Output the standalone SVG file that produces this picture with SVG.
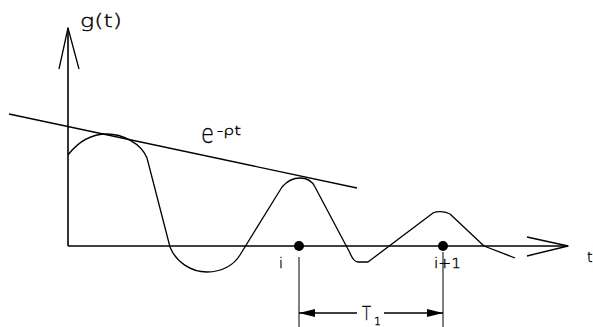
<svg xmlns="http://www.w3.org/2000/svg" width="593" height="327" viewBox="0 0 593 327">
<style>
.ln{fill:none;stroke:#000;stroke-width:1.3;stroke-linejoin:round}
.ax{fill:none;stroke:#000;stroke-width:1.6}
.ext{fill:none;stroke:#808080;stroke-width:2}
.tx{font-family:"DejaVu Sans","Liberation Sans",sans-serif;font-weight:200;fill:#000;stroke:#000;stroke-width:0.35}
</style>
<defs>
<marker id="ah" markerWidth="16" markerHeight="8" refX="16" refY="4" orient="auto" markerUnits="userSpaceOnUse">
<path d="M0,0 L16,4 L0,8 Z" fill="#000"/>
</marker>
</defs>
<rect width="593" height="327" fill="#fff"/>
<g id="axes">
<line class="ax" x1="68" y1="28" x2="68" y2="246"/>
<polyline class="ln" points="59,69 68,28 79,69"/>
<line class="ax" x1="68" y1="246" x2="568" y2="246"/>
<polyline class="ln" points="527,237 568,246 527,256"/>
</g>
<g id="envelope">
<line class="ln" x1="9" y1="114" x2="357" y2="188"/>
</g>
<g id="signal">
<path class="ln" d="M68,155 C78,142 92,134 107,134 C122,134 141,143 147,158 L170,247 C176,262 191,272 207,272 C222,272 234,265 240,255 L282,187 C288,180 294,178 300,178 C307,178 312,181 315,187 L350,253 C352,258 354,262 358,262 L368,262 L433,213 C437,211 445,211 450,214 L484,246 L515,258"/>
</g>
<g id="points">
<circle cx="299" cy="246" r="5" fill="#000"/>
<circle cx="443" cy="246" r="5" fill="#000"/>
</g>
<g id="dimension">
<line class="ext" x1="299" y1="257" x2="299" y2="327"/>
<line class="ext" x1="443" y1="252" x2="443" y2="327"/>
<line class="ln" x1="357" y1="313" x2="299" y2="313" marker-end="url(#ah)"/>
<line class="ln" x1="384" y1="313" x2="443" y2="313" marker-end="url(#ah)"/>
</g>
<g id="labels">
<text class="tx" x="80" y="27" font-size="17" textLength="42" lengthAdjust="spacingAndGlyphs">g(t)</text>
<text class="tx" x="201" y="143" font-size="26" textLength="13" lengthAdjust="spacingAndGlyphs">e</text>
<text class="tx" x="217" y="135" font-size="13" textLength="24" lengthAdjust="spacingAndGlyphs">-ρt</text>
<text class="tx" x="279" y="268" font-size="14">i</text>
<text class="tx" x="434" y="268" font-size="14" textLength="27" lengthAdjust="spacingAndGlyphs">i+1</text>
<text class="tx" x="587" y="262" font-size="14">t</text>
<text class="tx" x="362" y="320" font-size="20" textLength="9" lengthAdjust="spacingAndGlyphs">T</text>
<text class="tx" x="374" y="325" font-size="11">1</text>
</g>
</svg>
